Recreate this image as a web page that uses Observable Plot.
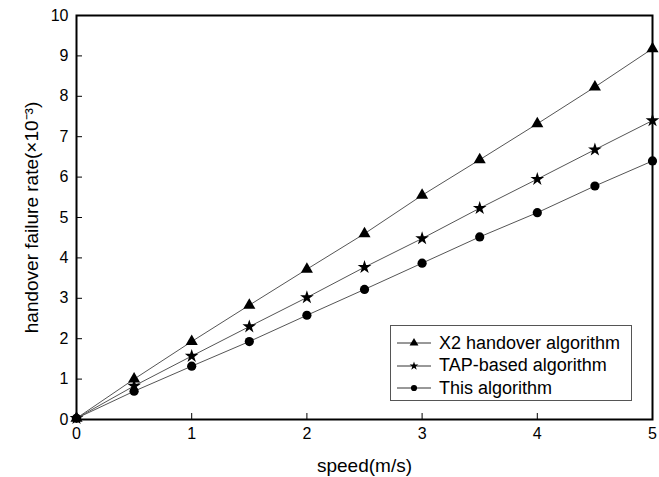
<!DOCTYPE html>
<html><head><meta charset="utf-8">
<script src="https://cdn.jsdelivr.net/npm/d3@7"></script>
<script src="https://cdn.jsdelivr.net/npm/@observablehq/plot@0.6"></script>
<style>
body{margin:0;background:#fff;font-family:"Liberation Sans",Arial,sans-serif;}
#wrap{position:relative;width:659px;height:477px;}
#legend{position:absolute;left:390px;top:325px;width:242px;height:76px;border:1px solid #555;background:#fff;box-sizing:border-box;}
#legend .row{display:flex;align-items:center;height:22.5px;font-size:18px;color:#000;white-space:nowrap;}
#legend .row:first-child{margin-top:6px;}
</style></head>
<body><div id="wrap"><div id="legend"></div></div>
<script>
const speed = [0, 0.5, 1, 1.5, 2, 2.5, 3, 3.5, 4, 4.5, 5];
const x2 = [0.03, 1.0, 1.93, 2.83, 3.72, 4.6, 5.55, 6.43, 7.32, 8.23, 9.18];
const tap = [0.03, 0.83, 1.57, 2.3, 3.02, 3.77, 4.48, 5.23, 5.95, 6.68, 7.4];
const mine = [0.03, 0.7, 1.32, 1.93, 2.58, 3.22, 3.87, 4.52, 5.12, 5.78, 6.4];
const seriesNames = ["X2 handover algorithm", "TAP-based algorithm", "This algorithm"];
const symbols = ["triangle", "star", "circle"];
const sizes = [4.5, 4.3, 4.6];
const xTicks = [0, 1, 2, 3, 4, 5];
const yTicks = [0, 1, 2, 3, 4, 5, 6, 7, 8, 9, 10];

const values = [x2, tap, mine];
const rows = [];
values.forEach((arr, s) => arr.forEach((v, i) => rows.push({series: seriesNames[s], x: speed[i], y: v, s})));

const marks = [];
values.forEach((arr, s) => {
  const d = rows.filter(r => r.s === s);
  marks.push(Plot.line(d, {x: "x", y: "y", stroke: "#555", strokeWidth: 1}));
  marks.push(Plot.dot(d, {x: "x", y: "y", symbol: () => symbols[s], r: sizes[s], fill: "black", stroke: "none"}));
});

const chart = Plot.plot({
  width: 659, height: 477,
  marginLeft: 76, marginRight: 7, marginTop: 15, marginBottom: 58,
  style: {fontFamily: '"Liberation Sans", Arial, sans-serif', fontSize: "16px", color: "#000", background: "#fff"},
  x: {domain: [0, 5]},
  y: {domain: [0, 10]},
  marks: [
    ...marks,
    Plot.axisX({ticks: xTicks, tickSize: -6, tickPadding: 14, tickFormat: d => d, label: null, fontSize: 16}),
    Plot.axisX({ticks: [], label: "speed(m/s)", labelAnchor: "center", labelArrow: "none", labelOffset: 52, fontSize: 19}),
    Plot.axisY({ticks: yTicks, tickSize: -6, tickPadding: 14, tickFormat: d => d, label: null, fontSize: 16}),
    Plot.axisY({ticks: [], label: "handover failure rate(×10⁻³)", labelAnchor: "center", labelArrow: "none", labelOffset: 52, fontSize: 19}),
    Plot.frame({stroke: "black", strokeWidth: 2})
  ]
});
document.getElementById("wrap").prepend(chart);

const leg = document.getElementById("legend");
seriesNames.forEach((n, s) => {
  const row = document.createElement("div");
  row.className = "row";
  const sym = d3.symbol(s === 0 ? d3.symbolTriangle : s === 1 ? d3.symbolStar : d3.symbolCircle, s === 0 ? 34 : s === 1 ? 24 : 30)();
  row.innerHTML = `<svg width="46" height="20"><line x1="6" x2="40" y1="10" y2="10" stroke="#333" stroke-width="1"/><path transform="translate(23,10)" d="${sym}" fill="black"/></svg><span style="margin-left:2px">${n}</span>`;
  leg.appendChild(row);
});
</script></body></html>
